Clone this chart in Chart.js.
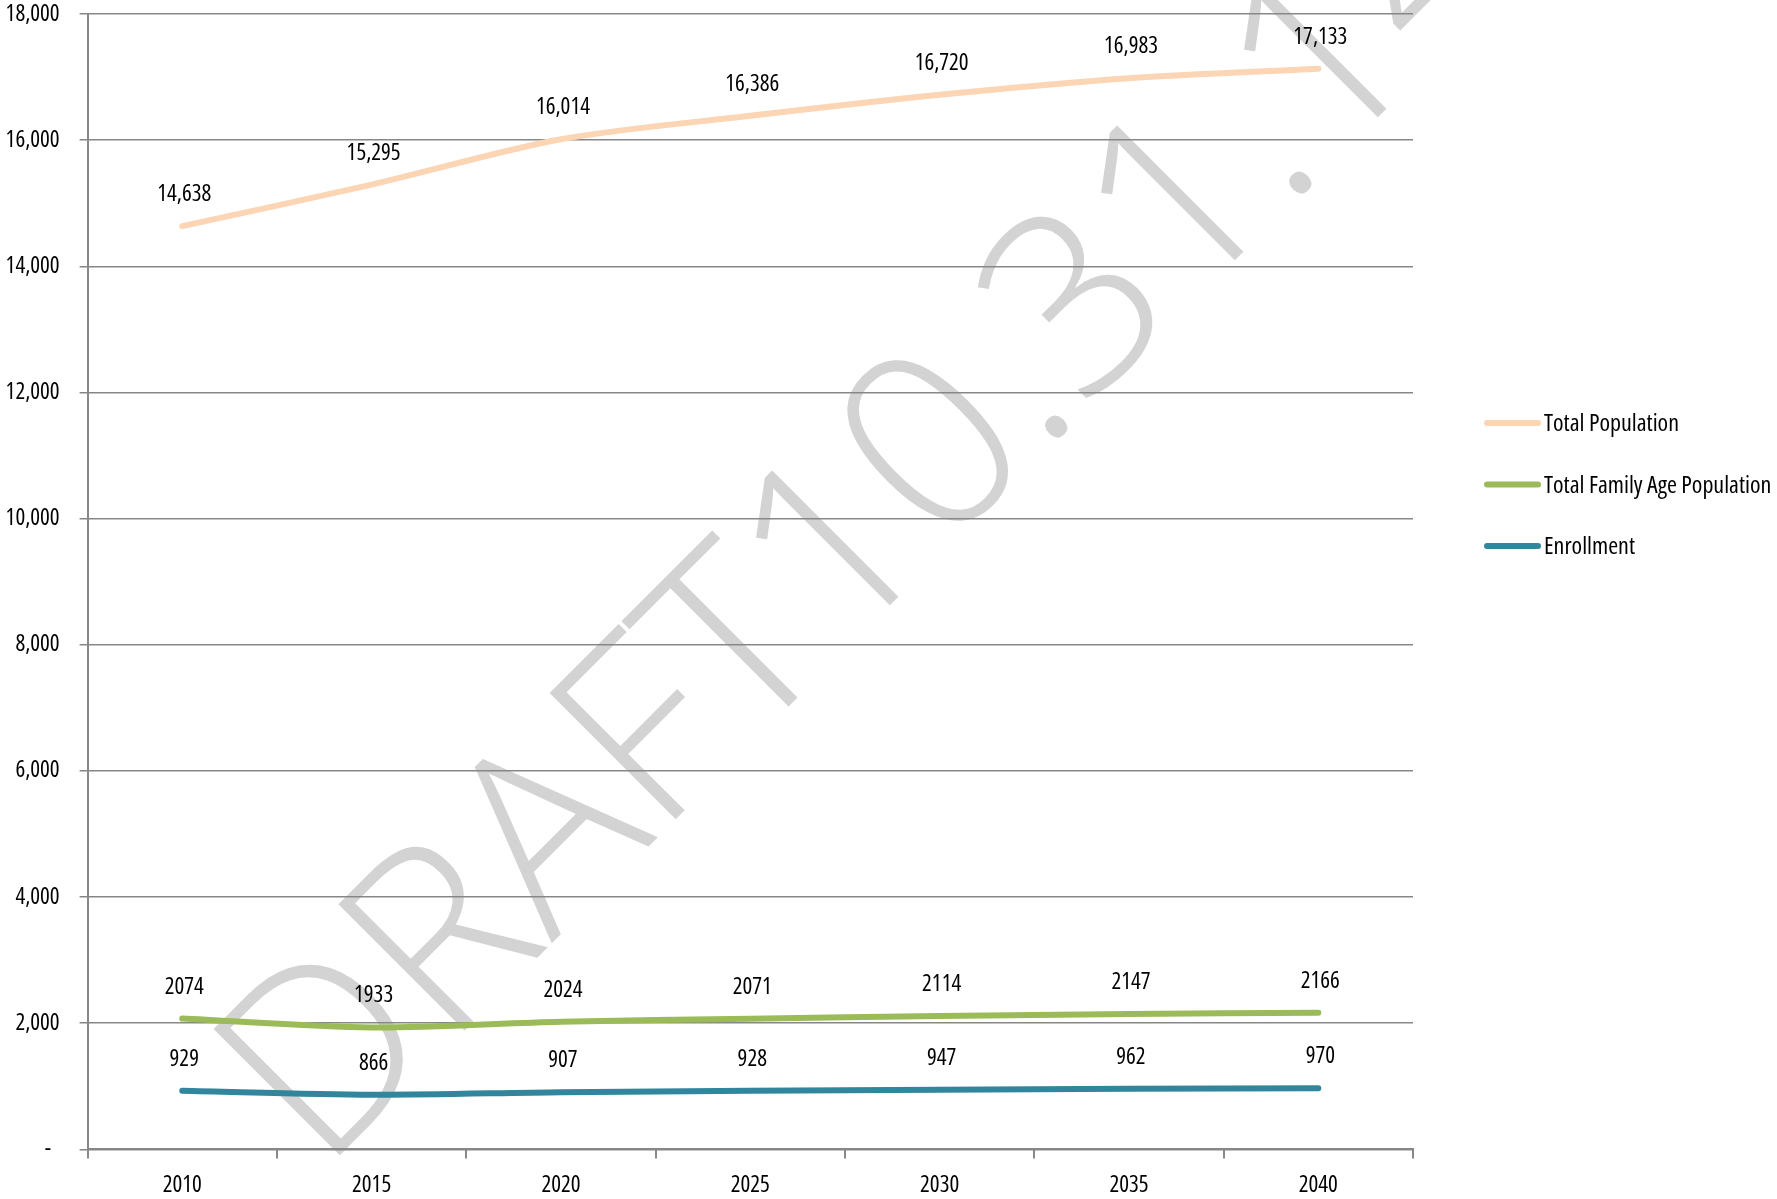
<!DOCTYPE html>
<html>
<head>
<meta charset="utf-8">
<title>Population and Enrollment Projections</title>
<script src="https://cdn.jsdelivr.net/npm/chart.js@4.4.0/dist/chart.umd.min.js"></script>
<style>
  body { margin: 0; background: #fff; }
  #wrap { width: 1777px; height: 1199px; }
</style>
</head>
<body>
<div id="wrap"><canvas id="chart" width="1777" height="1199"></canvas></div>
<script>
const years = ['2010', '2015', '2020', '2025', '2030', '2035', '2040'];
const totalPopulation = [14638, 15295, 16014, 16386, 16720, 16983, 17133];
const familyAgePopulation = [2074, 1933, 2024, 2071, 2114, 2147, 2166];
const enrollment = [929, 866, 907, 928, 947, 962, 970];
const seriesNames = ['Total Population', 'Total Family Age Population', 'Enrollment'];
const seriesColors = ['#fcd5b4', '#9bbb59', '#31859c'];
const yMax = 18000;
const yStep = 2000;

// condensed face of Open Sans; 'condensed' rides in the weight slot of the font string
const FAMILY = '"Open Sans", "DejaVu Sans Condensed", sans-serif';
const FONT_SIZE = 23;
const TEXT_FONT = 'condensed ' + FONT_SIZE + 'px ' + FAMILY;
const LEGEND_FONT = 'condensed 24px ' + FAMILY;
const GRID = '#878787';

Chart.defaults.font.family = FAMILY;
Chart.defaults.font.size = FONT_SIZE;
Chart.defaults.font.weight = 'condensed';
Chart.defaults.color = '#000';

// light grey stamp across the whole canvas, under everything else
const watermark = {
  id: 'watermark',
  beforeDraw(chart) {
    const ctx = chart.ctx;
    ctx.save();
    ctx.translate(322, 1173);
    ctx.rotate(-Math.PI / 4);
    ctx.font = '300 250px "Open Sans", "Noto Sans", Roboto, sans-serif';
    ctx.fillStyle = '#d3d3d3';
    ctx.textBaseline = 'alphabetic';
    ctx.fillText('DRAFT10.31.14', 0, 0);
    ctx.restore();
  }
};

// value printed above every point; only the first series uses thousands separators
const valueLabels = {
  id: 'valueLabels',
  afterDatasetsDraw(chart) {
    const ctx = chart.ctx;
    ctx.save();
    ctx.font = TEXT_FONT;
    ctx.fillStyle = '#000';
    ctx.textAlign = 'center';
    ctx.textBaseline = 'alphabetic';
    chart.data.datasets.forEach((ds, i) => {
      chart.getDatasetMeta(i).data.forEach((pt, j) => {
        const v = ds.data[j];
        const txt = i === 0 ? v.toLocaleString('en-US') : String(v);
        ctx.fillText(txt, pt.x + 2, pt.y - 25);
      });
    });
    ctx.restore();
  }
};

// line-sample legend to the right of the plot
const seriesLegend = {
  id: 'seriesLegend',
  afterDraw(chart) {
    const ctx = chart.ctx;
    const x0 = 1487, x1 = 1538, top = 423, gap = 61.5;
    ctx.save();
    ctx.font = LEGEND_FONT;
    ctx.textAlign = 'left';
    ctx.textBaseline = 'alphabetic';
    chart.data.datasets.forEach((ds, i) => {
      const y = top + i * gap;
      ctx.strokeStyle = ds.borderColor;
      ctx.lineWidth = 6;
      ctx.lineCap = 'round';
      ctx.beginPath();
      ctx.moveTo(x0, y);
      ctx.lineTo(x1, y);
      ctx.stroke();
      ctx.fillStyle = '#000';
      ctx.fillText(ds.label, 1544, y + 8);
    });
    ctx.restore();
  }
};

const series = [totalPopulation, familyAgePopulation, enrollment];

new Chart(document.getElementById('chart'), {
  type: 'line',
  data: {
    labels: years,
    datasets: series.map((data, i) => ({
      label: seriesNames[i],
      data: data,
      borderColor: seriesColors[i],
      backgroundColor: seriesColors[i],
      fill: false
    }))
  },
  options: {
    responsive: false,
    animation: false,
    layout: { padding: { left: -14.4, right: 364, top: 0, bottom: -13 } },
    elements: {
      point: { radius: 0, hoverRadius: 0 },
      line: { borderWidth: 6, tension: 0.3, borderCapStyle: 'round', borderJoinStyle: 'round' }
    },
    plugins: {
      legend: { display: false },
      tooltip: { enabled: false }
    },
    scales: {
      x: {
        offset: true,
        grid: { offset: true, drawOnChartArea: false, drawTicks: true, tickLength: 9, color: GRID, lineWidth: 2 },
        border: { color: GRID, width: 2 },
        ticks: { padding: 13, maxRotation: 0 }
      },
      y: {
        min: 0,
        max: yMax,
        grid: { color: GRID, lineWidth: 1.5, tickLength: 8 },
        border: { color: GRID, width: 2 },
        ticks: {
          stepSize: yStep,
          padding: 20,
          callback: v => v === 0 ? '-  ' : v.toLocaleString('en-US')
        },
        // tick padding is horizontal here; keep the top of the axis close to the canvas edge
        afterFit(scale) {
          scale.paddingTop = 14;
          scale.paddingBottom = 14;
        }
      }
    }
  },
  plugins: [watermark, valueLabels, seriesLegend]
});
</script>
</body>
</html>
